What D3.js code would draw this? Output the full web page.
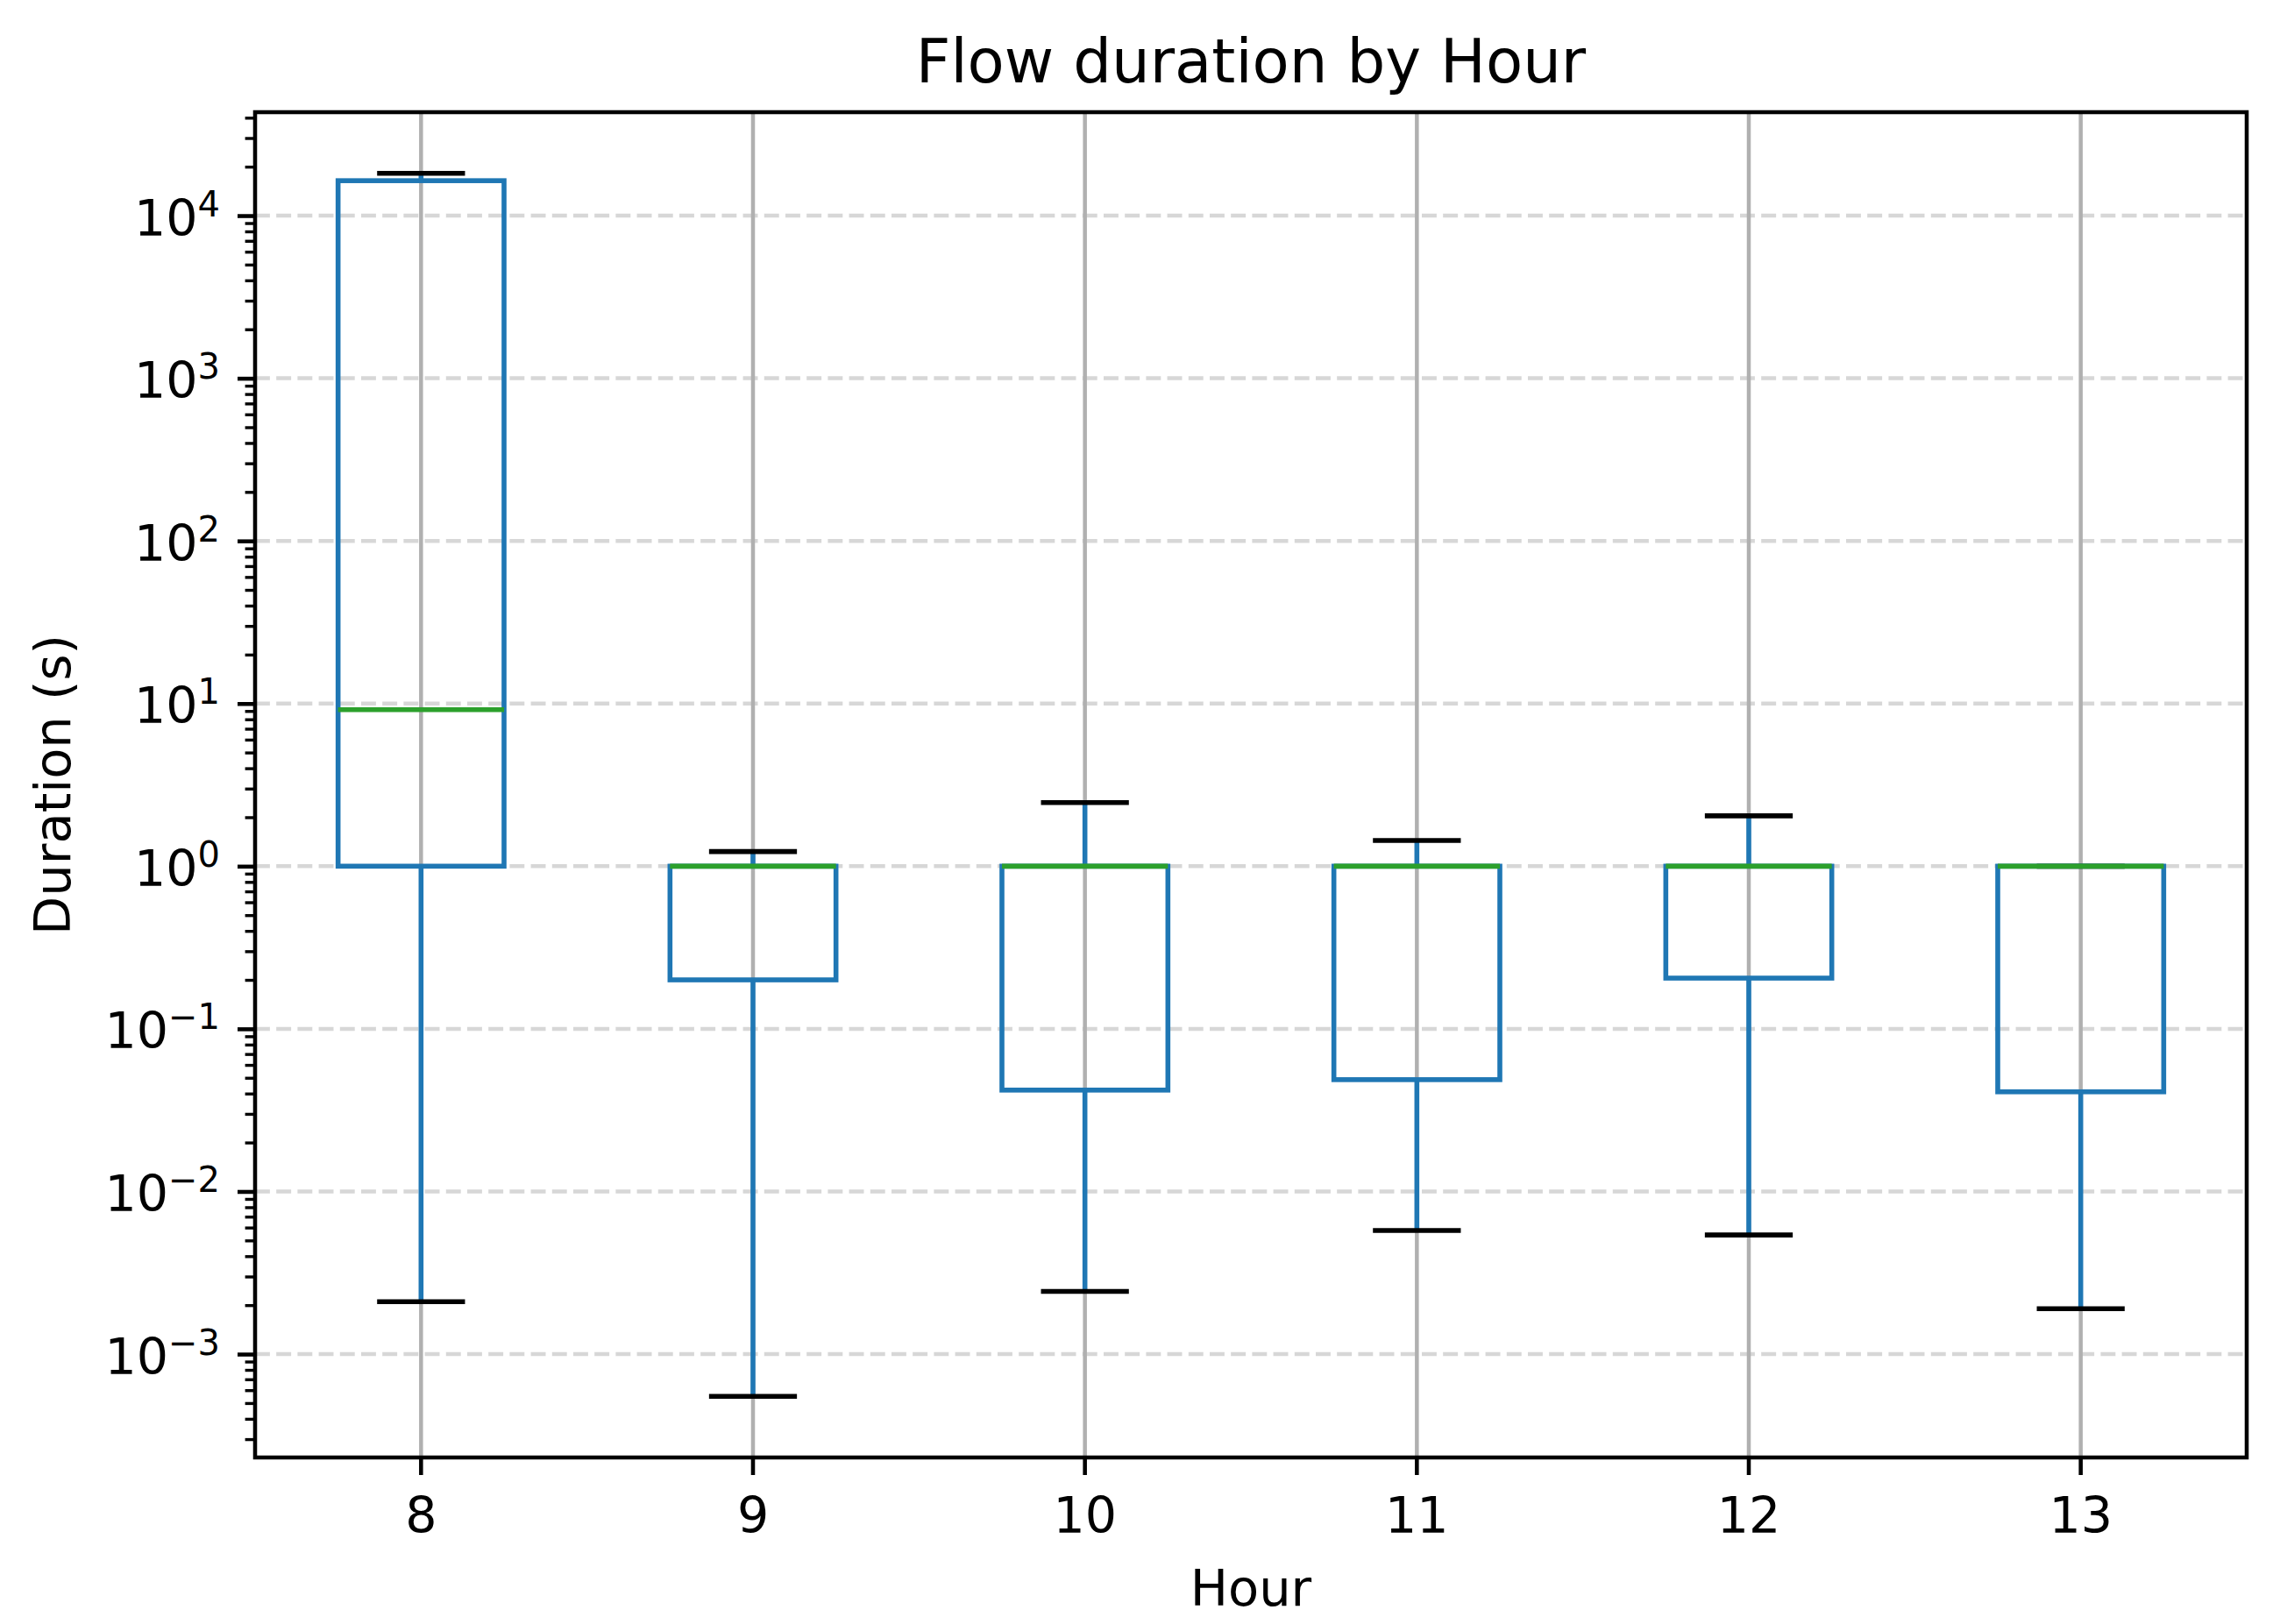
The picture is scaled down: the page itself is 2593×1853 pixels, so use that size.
<!DOCTYPE html>
<html>
<head>
<meta charset="utf-8">
<script src="https://cdn.jsdelivr.net/npm/d3@7"></script>
<style>
  html, body { margin: 0; padding: 0; background: #fff; }
  svg { display: block; }
  text { font-family: "DejaVu Sans", sans-serif; fill: #000; }
</style>
</head>
<body>
<svg id="chart" width="2593" height="1853"></svg>
<script>
// ---- data ----
const hours       = ["8", "9", "10", "11", "12", "13"];
const whiskerLow  = [2.1e-3, 5.5e-4, 2.43e-3, 5.75e-3, 5.4e-3, 1.9e-3];
const q1          = [1.0,    0.2,    0.042,   0.0487,  0.205,  0.041];
const median      = [9.17,   1.0,    1.0,     1.0,     1.0,    1.0];
const q3          = [1.64e4, 1.0,    1.0,     1.0,     1.0,    1.0];
const whiskerHigh = [1.82e4, 1.23,   2.46,    1.44,    2.04,   1.0];
const yTickExponents = [-3, -2, -1, 0, 1, 2, 3, 4];

const titleText = "Flow duration by Hour";
const xLabelText = "Hour";
const yLabelText = "Duration (s)";

// ---- layout ----
const W = 2593, H = 1853;
const plot = { left: 291, right: 2563, top: 128, bottom: 1663 };
const blue = "#1f77b4", green = "#2ca02c";
const lw = 5.6;

const svg = d3.select("#chart");

const x = d3.scaleBand().domain(hours).range([plot.left, plot.right]).paddingInner(0).paddingOuter(0);
const bw = x.bandwidth();
const cx = h => x(h) + bw / 2;

// log domain with 5% margins (in log space), like matplotlib autoscale
const lo = Math.log10(d3.min(whiskerLow)), hi = Math.log10(d3.max(whiskerHigh));
const m = (hi - lo) * 0.05;
const y = d3.scaleLog().domain([Math.pow(10, lo - m), Math.pow(10, hi + m)]).range([plot.bottom, plot.top]);

const majors = yTickExponents.map(e => Math.pow(10, e));
const [dmin, dmax] = y.domain();
const minors = [];
for (let e = Math.floor(Math.log10(dmin)); e <= Math.ceil(Math.log10(dmax)); e++) {
  for (let k = 2; k <= 9; k++) {
    const v = k * Math.pow(10, e);
    if (v >= dmin && v <= dmax) minors.push(v);
  }
}

// ---- grid ----
const grid = svg.append("g");
grid.selectAll("line.vg").data(hours).join("line")
  .attr("x1", d => cx(d)).attr("x2", d => cx(d))
  .attr("y1", plot.top).attr("y2", plot.bottom)
  .attr("stroke", "#b0b0b0").attr("stroke-width", 4.5);
grid.selectAll("line.hg").data(majors).join("line")
  .attr("x1", plot.left).attr("x2", plot.right)
  .attr("y1", d => y(d)).attr("y2", d => y(d))
  .attr("stroke", "#b0b0b0").attr("stroke-opacity", 0.5)
  .attr("stroke-width", 4.5).attr("stroke-dasharray", "16.9 7.3");

// ---- boxes ----
const idx = d3.range(hours.length);
const marks = svg.append("g");
// whiskers
marks.selectAll("line.wl").data(idx).join("line")
  .attr("x1", i => cx(hours[i])).attr("x2", i => cx(hours[i]))
  .attr("y1", i => y(q1[i])).attr("y2", i => y(whiskerLow[i]))
  .attr("stroke", blue).attr("stroke-width", lw);
marks.selectAll("line.wh").data(idx).join("line")
  .attr("x1", i => cx(hours[i])).attr("x2", i => cx(hours[i]))
  .attr("y1", i => y(q3[i])).attr("y2", i => y(whiskerHigh[i]))
  .attr("stroke", blue).attr("stroke-width", lw);
// caps
const capHalf = bw * 0.125;
marks.selectAll("line.cl").data(idx).join("line")
  .attr("x1", i => cx(hours[i]) - capHalf).attr("x2", i => cx(hours[i]) + capHalf)
  .attr("y1", i => y(whiskerLow[i])).attr("y2", i => y(whiskerLow[i]))
  .attr("stroke", "#000").attr("stroke-width", lw).attr("stroke-linecap", "square");
marks.selectAll("line.ch").data(idx).join("line")
  .attr("x1", i => cx(hours[i]) - capHalf).attr("x2", i => cx(hours[i]) + capHalf)
  .attr("y1", i => y(whiskerHigh[i])).attr("y2", i => y(whiskerHigh[i]))
  .attr("stroke", "#000").attr("stroke-width", lw).attr("stroke-linecap", "square");
// boxes
const boxHalf = bw * 0.25;
marks.selectAll("rect.box").data(idx).join("rect")
  .attr("x", i => cx(hours[i]) - boxHalf).attr("width", boxHalf * 2)
  .attr("y", i => y(q3[i])).attr("height", i => Math.max(0, y(q1[i]) - y(q3[i])))
  .attr("fill", "none").attr("stroke", blue).attr("stroke-width", lw);
// medians
marks.selectAll("line.med").data(idx).join("line")
  .attr("x1", i => cx(hours[i]) - boxHalf).attr("x2", i => cx(hours[i]) + boxHalf)
  .attr("y1", i => y(median[i])).attr("y2", i => y(median[i]))
  .attr("stroke", green).attr("stroke-width", lw);

// ---- axes ----
const tickFont = 57;
const yAxisMinor = svg.append("g").attr("transform", `translate(${plot.left},0)`)
  .call(d3.axisLeft(y).tickValues(minors).tickSize(11.4).tickFormat(""));
yAxisMinor.select(".domain").remove();
yAxisMinor.selectAll(".tick line").attr("stroke", "#000").attr("stroke-width", 3.4);

const yAxis = svg.append("g").attr("transform", `translate(${plot.left},0)`)
  .call(d3.axisLeft(y).tickValues(majors).tickSize(20).tickPadding(20).tickFormat(""));
yAxis.select(".domain").remove();
yAxis.selectAll(".tick line").attr("stroke", "#000").attr("stroke-width", 4.55);
yAxis.selectAll(".tick text").each(function(d) {
  const t = d3.select(this);
  const e = Math.round(Math.log10(d));
  t.text(null).attr("dy", null).attr("y", 22)
    .attr("font-size", tickFont).attr("font-family", "DejaVu Sans").attr("text-anchor", "end");
  t.append("tspan").text("10");
  t.append("tspan").attr("font-size", 40).attr("dy", -22).text(e < 0 ? "\u2212" + (-e) : String(e));
});

const xAxis = svg.append("g").attr("transform", `translate(0,${plot.bottom})`)
  .call(d3.axisBottom(x).tickSize(20).tickPadding(20));
xAxis.select(".domain").remove();
xAxis.selectAll(".tick line").attr("stroke", "#000").attr("stroke-width", 4.55);
xAxis.selectAll(".tick text").attr("dy", null).attr("y", 86)
  .attr("font-size", tickFont).attr("font-family", "DejaVu Sans").attr("fill", "#000");

// spines
svg.append("rect")
  .attr("x", plot.left).attr("y", plot.top)
  .attr("width", plot.right - plot.left).attr("height", plot.bottom - plot.top)
  .attr("fill", "none").attr("stroke", "#000").attr("stroke-width", 4.55);

// ---- labels ----
svg.append("text").attr("x", (plot.left + plot.right) / 2).attr("y", 94)
  .attr("text-anchor", "middle").attr("font-size", 69).text(titleText);
svg.append("text").attr("x", (plot.left + plot.right) / 2).attr("y", 1832)
  .attr("text-anchor", "middle").attr("font-size", 57.5).text(xLabelText);
svg.append("text")
  .attr("transform", `translate(80,${(plot.top + plot.bottom) / 2}) rotate(-90)`)
  .attr("text-anchor", "middle").attr("font-size", 57.5).text(yLabelText);
</script>
</body>
</html>
